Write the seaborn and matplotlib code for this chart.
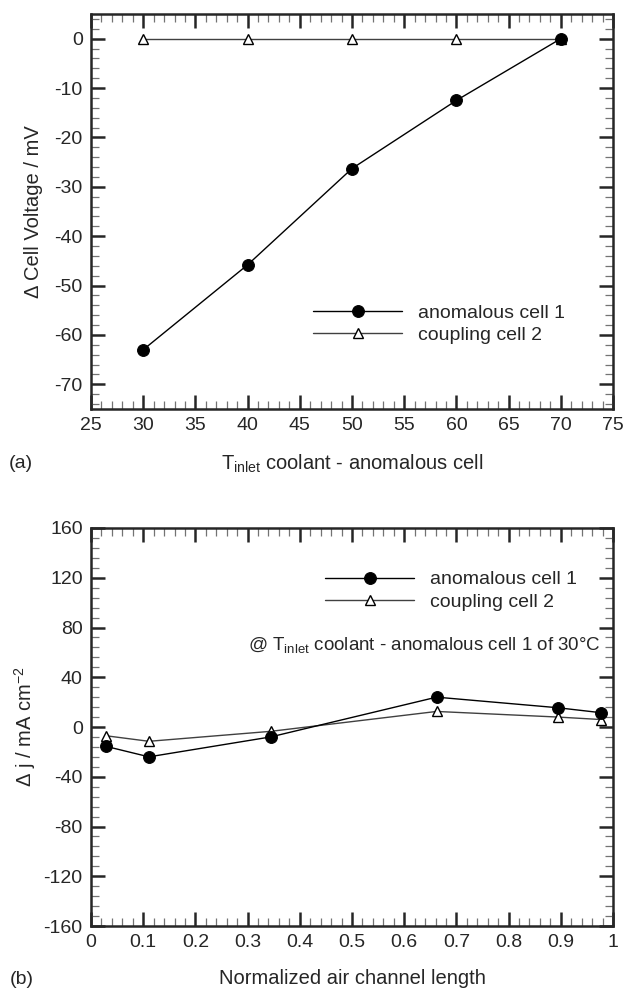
import numpy as np
import pandas as pd
import seaborn as sns
import matplotlib.pyplot as plt
from matplotlib.ticker import MultipleLocator

# -----------------------------
# data
# -----------------------------
t_inlet = [30, 40, 50, 60, 70]
dv_anomalous = [-63.0, -45.8, -26.3, -12.5, 0.0]
dv_coupling = [0.0, 0.0, 0.0, 0.0, 0.0]

air_len = [0.028, 0.111, 0.344, 0.662, 0.894, 0.977]
dj_anomalous = [-15.5, -24.0, -8.0, 24.0, 15.5, 11.5]
dj_coupling = [-7.0, -11.5, -3.5, 12.5, 8.0, 6.0]

labels = ["anomalous cell 1", "coupling cell 2"]

sns.set_style("ticks")
plt.rcParams["font.family"] = ["Liberation Sans", "DejaVu Sans"]
plt.rcParams["mathtext.fontset"] = "custom"
plt.rcParams["mathtext.rm"] = "Liberation Sans"
plt.rcParams["mathtext.it"] = "Liberation Sans"
plt.rcParams["axes.unicode_minus"] = False

FS = 14
FS_LAB = 14.5

fig = plt.figure(figsize=(6.24, 9.88), dpi=100)
W, H = 624, 988


def add_ax(x0, y0, x1, y1):
    return fig.add_axes([x0 / W, 1 - y1 / H, (x1 - x0) / W, (y1 - y0) / H])


ax1 = add_ax(91, 14, 613, 409)
ax2 = add_ax(91, 528, 613, 926)

style_a = dict(color="black", lw=1.0, marker="o", markersize=8.5,
               markerfacecolor="black", markeredgecolor="black")
style_c = dict(color="0.25", lw=1.0, marker="^", markersize=7,
               markerfacecolor="white", markeredgecolor="black", markeredgewidth=1.0)

# -----------------------------
# (a) cell voltage
# -----------------------------
df_a = pd.DataFrame({"t": t_inlet, "anom": dv_anomalous, "coup": dv_coupling})
sns.lineplot(data=df_a, x="t", y="coup", ax=ax1, label=labels[1], zorder=2, **style_c)
sns.lineplot(data=df_a, x="t", y="anom", ax=ax1, label=labels[0], zorder=3, **style_a)
ax1.set_xlim(25, 75)
ax1.set_ylim(-75, 5)
ax1.xaxis.set_major_locator(MultipleLocator(5))
ax1.xaxis.set_minor_locator(MultipleLocator(1))
ax1.yaxis.set_major_locator(MultipleLocator(10))
ax1.yaxis.set_minor_locator(MultipleLocator(2))
ax1.set_xlabel(r"T$_{\mathrm{inlet}}$ coolant - anomalous cell", fontsize=FS_LAB, labelpad=13)
ax1.set_ylabel("Δ Cell Voltage / mV", fontsize=FS_LAB, labelpad=8)

# -----------------------------
# (b) current density
# -----------------------------
df_b = pd.DataFrame({"x": air_len, "anom": dj_anomalous, "coup": dj_coupling})
sns.lineplot(data=df_b, x="x", y="coup", ax=ax2, label=labels[1], zorder=2, **style_c)
sns.lineplot(data=df_b, x="x", y="anom", ax=ax2, label=labels[0], zorder=3, **style_a)
ax2.set_xlim(0, 1)
ax2.set_ylim(-160, 160)
ax2.xaxis.set_major_locator(MultipleLocator(0.1))
ax2.xaxis.set_minor_locator(MultipleLocator(0.02))
ax2.yaxis.set_major_locator(MultipleLocator(40))
ax2.yaxis.set_minor_locator(MultipleLocator(8))
ax2.xaxis.set_major_formatter(lambda v, p: f"{v:.1f}".rstrip("0").rstrip(".") if v not in (0, 1) else f"{int(v)}")
ax2.set_xlabel("Normalized air channel length", fontsize=FS_LAB, labelpad=13)
ax2.set_ylabel(r"Δ j / mA cm$^{-2}$", fontsize=FS_LAB, labelpad=4)
ax2.text(0.977, 0.706, r"@ T$_{\mathrm{inlet}}$ coolant - anomalous cell 1 of 30°C",
         transform=ax2.transAxes, ha="right", va="center", fontsize=13.5)

for ax in (ax1, ax2):
    for s in ax.spines.values():
        s.set_linewidth(1.8)
        s.set_visible(True)
    ax.tick_params(which="both", direction="in", top=True, right=True, labelsize=FS)
    ax.tick_params(which="major", length=10, width=1.8, pad=6)
    ax.tick_params(which="minor", length=5.5, width=0.9, color="0.45")

# legends: anomalous first, coupling second
for ax, anchor in ((ax1, (0.425, 0.215)), (ax2, (0.448, 0.842))):
    h, l = ax.get_legend_handles_labels()
    order = [l.index(labels[0]), l.index(labels[1])]
    ax.legend([h[i] for i in order], [l[i] for i in order], loc="center left",
              bbox_to_anchor=anchor, frameon=False, fontsize=FS, handlelength=4.6,
              handletextpad=0.8, labelspacing=0.25, borderpad=0, borderaxespad=0)

fig.text(21 / W, 1 - 463 / H, "(a)", fontsize=FS, ha="center", va="center")
fig.text(22 / W, 1 - 979 / H, "(b)", fontsize=FS, ha="center", va="center")

fig.savefig("out.png", dpi=100)
